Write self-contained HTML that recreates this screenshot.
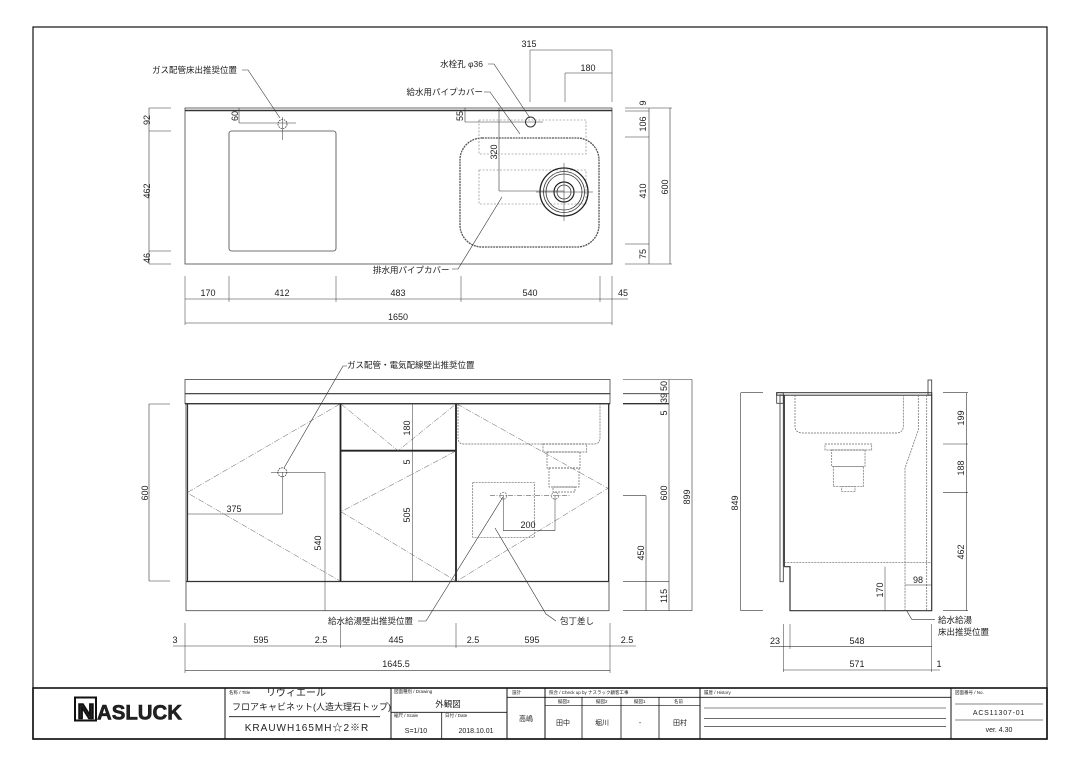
<!DOCTYPE html>
<html><head><meta charset="utf-8"><style>
html,body{margin:0;padding:0;background:#fff}
svg{display:block}
text{font-family:"Liberation Sans Narrow","Liberation Sans","Noto Sans CJK JP",sans-serif;fill:#222}
.j{font-family:"Liberation Sans","Noto Sans CJK JP",sans-serif}
</style></head><body>
<svg width="1080" height="764" viewBox="0 0 1080 764" xmlns="http://www.w3.org/2000/svg">
<g fill="none" stroke="#333" stroke-width="0.8">
<rect x="33" y="27" width="1014" height="712" stroke="#111" stroke-width="1.2"/>

<!-- TOP VIEW -->
<rect x="185" y="108" width="427" height="156" stroke="#444"/>
<line x1="185" y1="110.5" x2="612" y2="110.5" stroke-width="1.6" stroke="#333"/>
<rect x="229" y="131" width="107" height="120" rx="2.5" stroke="#444"/>
<circle cx="282.5" cy="124" r="4.5" stroke-dasharray="1.5,1"/>
<line x1="282.5" y1="117" x2="282.5" y2="140" stroke-width="0.5"/>
<line x1="239" y1="123" x2="296" y2="123" stroke-width="0.6"/>
<line x1="239" y1="108" x2="239" y2="123" stroke-width="0.6"/>
<rect x="460" y="138" width="139" height="109" rx="22" stroke="#555" stroke-width="1.3" stroke-dasharray="2,0.8"/>
<rect x="479" y="120" width="107" height="34" stroke="#777" stroke-dasharray="2,1.5" stroke-width="0.6"/>
<rect x="479" y="170" width="107" height="34" stroke="#777" stroke-dasharray="2,1.5" stroke-width="0.6"/>
<circle cx="564" cy="192" r="24" stroke-width="1.3" stroke="#222"/>
<circle cx="564" cy="192" r="20.5" stroke-width="0.8"/>
<circle cx="564" cy="192" r="18" stroke-width="0.8"/>
<circle cx="564" cy="192" r="10" stroke-width="1.2" stroke="#222"/>
<circle cx="564" cy="192" r="7" stroke-width="0.8"/>
<line x1="564" y1="163" x2="564" y2="221" stroke-width="0.5"/>
<line x1="536" y1="192" x2="593" y2="192" stroke-width="0.5"/>
<circle cx="530.5" cy="122" r="5" stroke-width="1"/>
<line x1="465" y1="122" x2="543" y2="122" stroke-width="0.6"/>
<line x1="465" y1="108" x2="465" y2="122" stroke-width="0.6"/>
<line x1="499" y1="108" x2="499" y2="191" stroke-width="0.6"/>
<line x1="499" y1="191" x2="564" y2="191" stroke-width="0.6"/>
<line x1="530" y1="50" x2="530" y2="102" stroke-width="0.5"/>
<line x1="565" y1="73" x2="565" y2="102" stroke-width="0.5"/>
<line x1="612" y1="50" x2="612" y2="102" stroke-width="0.5"/>
<line x1="530" y1="50" x2="612" y2="50" stroke-width="0.6"/>
<line x1="565" y1="73" x2="612" y2="73" stroke-width="0.6"/>
<polyline points="488,64 494,64 530,118" stroke-width="0.6"/>
<polyline points="484,92 490,92 520,134" stroke-width="0.6"/>
<polyline points="242,70 248,70 280,118" stroke-width="0.6"/>
<polyline points="452,269 458,269 502,197" stroke-width="0.6"/>
<line x1="149" y1="108" x2="149" y2="264" stroke-width="0.6"/>
<line x1="149" y1="108" x2="171" y2="108" stroke-width="0.6"/>
<line x1="149" y1="131" x2="171" y2="131" stroke-width="0.6"/>
<line x1="149" y1="251" x2="171" y2="251" stroke-width="0.6"/>
<line x1="149" y1="264" x2="171" y2="264" stroke-width="0.6"/>
<line x1="649" y1="108" x2="649" y2="264" stroke-width="0.6"/>
<line x1="670" y1="108" x2="670" y2="264" stroke-width="0.6"/>
<line x1="625" y1="108" x2="672" y2="108" stroke-width="0.6"/>
<line x1="625" y1="111" x2="649" y2="111" stroke-width="0.6"/>
<line x1="625" y1="137" x2="649" y2="137" stroke-width="0.6"/>
<line x1="625" y1="244" x2="649" y2="244" stroke-width="0.6"/>
<line x1="625" y1="264" x2="672" y2="264" stroke-width="0.6"/>
<line x1="185" y1="299" x2="628" y2="299" stroke-width="0.6"/>
<line x1="185" y1="323" x2="612" y2="323" stroke-width="0.6"/>
<g stroke-width="0.5">
<line x1="185" y1="276" x2="185" y2="325"/><line x1="229" y1="276" x2="229" y2="302"/>
<line x1="336" y1="276" x2="336" y2="302"/><line x1="461" y1="276" x2="461" y2="302"/>
<line x1="600" y1="276" x2="600" y2="302"/><line x1="612" y1="276" x2="612" y2="325"/>
</g>

<!-- FRONT VIEW -->
<rect x="185" y="379.5" width="425" height="24" stroke="#444"/>
<line x1="185" y1="393.7" x2="610" y2="393.7" stroke-width="1.2"/>
<line x1="185" y1="403.7" x2="610" y2="403.7" stroke-width="1.4" stroke="#222"/>
<rect x="186" y="403.7" width="423" height="207" stroke="#444"/>
<line x1="186" y1="581.5" x2="609" y2="581.5" stroke-width="1.2"/>
<line x1="187.5" y1="404" x2="187.5" y2="581" stroke-width="1.2"/>
<line x1="340.5" y1="404" x2="340.5" y2="581" stroke-width="1.8" stroke="#222"/>
<line x1="456" y1="404" x2="456" y2="581" stroke-width="1.8" stroke="#222"/>
<line x1="341" y1="450.7" x2="456" y2="450.7" stroke-width="1.8" stroke="#222"/>
<line x1="608.5" y1="404" x2="608.5" y2="581" stroke-width="1"/>
<g stroke-width="0.5" stroke="#555" stroke-dasharray="6,1.5,1,1.5">
<polyline points="340,404 187,492.7 340,581"/>
<polyline points="341,404 398,450.7 456,404"/>
<polyline points="456,451 341,511.7 456,581"/>
<polyline points="457,404 608,488.3 457,581"/>
</g>
<g stroke="#666" stroke-dasharray="2,1" stroke-width="0.7">
<path d="M458,404 V438 Q458,444 464,444 H594 Q600,444 600,438 V404"/>
<rect x="543" y="444" width="43.7" height="8"/>
<rect x="547" y="452" width="33" height="16"/>
<rect x="549" y="468" width="30" height="19"/>
<rect x="553" y="487" width="22" height="5"/>
<rect x="472.7" y="482.7" width="61.6" height="54.6"/>
<circle cx="503.3" cy="495.7" r="3.5"/>
<circle cx="555" cy="495.7" r="3.5"/>
</g>
<line x1="490" y1="495.7" x2="570" y2="495.7" stroke-width="0.5" stroke-dasharray="5,1.5,1,1.5"/>
<line x1="503.3" y1="495.7" x2="503.3" y2="530.7" stroke-width="0.5"/>
<line x1="555" y1="495.7" x2="555" y2="530.7" stroke-width="0.5"/>
<line x1="503.3" y1="530.7" x2="555" y2="530.7" stroke-width="0.6"/>
<circle cx="282.3" cy="472.3" r="4.5" stroke-dasharray="1.5,1"/>
<line x1="271" y1="472.3" x2="325" y2="472.3" stroke-width="0.5"/>
<line x1="282.3" y1="472.3" x2="282.3" y2="514" stroke-width="0.5"/>
<line x1="187" y1="514" x2="282.3" y2="514" stroke-width="0.6"/>
<line x1="325" y1="472.3" x2="325" y2="611" stroke-width="0.5"/>
<line x1="412.7" y1="404" x2="412.7" y2="581" stroke-width="0.5"/>
<polyline points="347,366 343,366 284,468" stroke-width="0.6"/>
<polyline points="418,621 426,621 503,497" stroke-width="0.6"/>
<polyline points="556,621 546,614 495,528" stroke-width="0.6"/>
<line x1="149" y1="404" x2="149" y2="581" stroke-width="0.6"/>
<line x1="149" y1="404" x2="170" y2="404" stroke-width="0.6"/>
<line x1="149" y1="581" x2="170" y2="581" stroke-width="0.6"/>
<line x1="669" y1="379.5" x2="669" y2="610.7" stroke-width="0.6"/>
<line x1="692" y1="379.5" x2="692" y2="610.7" stroke-width="0.6"/>
<line x1="646" y1="495.7" x2="646" y2="610.7" stroke-width="0.6"/>
<line x1="623" y1="379.5" x2="692" y2="379.5" stroke-width="0.6"/>
<line x1="623" y1="393.7" x2="669" y2="393.7" stroke-width="0.8"/>
<line x1="623" y1="403.7" x2="669" y2="403.7" stroke-width="1.4"/>
<line x1="623" y1="495.7" x2="646" y2="495.7" stroke-width="0.6"/>
<line x1="623" y1="581.7" x2="669" y2="581.7" stroke-width="0.6"/>
<line x1="623" y1="610.7" x2="692" y2="610.7" stroke-width="0.6"/>
<line x1="173" y1="646" x2="636" y2="646" stroke-width="0.6"/>
<line x1="185" y1="670.7" x2="610" y2="670.7" stroke-width="0.6"/>
<g stroke-width="0.5">
<line x1="185" y1="623" x2="185" y2="673"/><line x1="340.5" y1="623" x2="340.5" y2="648"/>
<line x1="456" y1="623" x2="456" y2="648"/><line x1="610" y1="623" x2="610" y2="673"/>
</g>

<!-- SIDE VIEW -->
<rect x="776.7" y="392.7" width="155" height="2.5" stroke-width="1"/>
<rect x="928" y="380" width="3.7" height="15" stroke-width="0.8"/>
<rect x="776.7" y="392.7" width="6.6" height="10.6" stroke-width="0.8"/>
<rect x="780" y="395" width="3.3" height="186.7" stroke-width="0.8"/>
<line x1="784.3" y1="395" x2="784.3" y2="566.7" stroke-width="1.2"/>
<polyline points="784.3,566.7 790,566.7 790,610.7 931.7,610.7 931.7,395" stroke-width="1.2"/>
<g stroke="#666" stroke-dasharray="2,1" stroke-width="0.7">
<path d="M795,395 V426 Q795,433 803,433 H896 Q903.3,433 903.3,426 V395"/>
<rect x="825" y="444" width="46.7" height="6"/>
<rect x="831.7" y="450" width="33.3" height="16.7"/>
<rect x="833.3" y="466.7" width="30" height="20"/>
<rect x="841.7" y="486.7" width="13.3" height="5"/>
<polyline points="918.3,395 918.3,430 905,468.3 905,610.7"/>
<line x1="926.7" y1="395" x2="926.7" y2="610.7"/>
<line x1="784.3" y1="562.7" x2="931" y2="562.7"/>
</g>
<line x1="885" y1="566.7" x2="885" y2="610.7" stroke-width="0.5"/>
<line x1="905" y1="585" x2="931.7" y2="585" stroke-width="0.6"/>
<polyline points="906.7,610.7 911.7,619.3 935,619.3" stroke-width="0.6"/>
<line x1="966.7" y1="392.7" x2="966.7" y2="610.7" stroke-width="0.6"/>
<line x1="943" y1="392.7" x2="968" y2="392.7" stroke-width="0.6"/>
<line x1="943" y1="444" x2="968" y2="444" stroke-width="0.6"/>
<line x1="943" y1="492.3" x2="968" y2="492.3" stroke-width="0.6"/>
<line x1="943" y1="610.7" x2="968" y2="610.7" stroke-width="0.6"/>
<line x1="740.7" y1="392.7" x2="740.7" y2="610.7" stroke-width="0.6"/>
<line x1="740.7" y1="392.7" x2="763" y2="392.7" stroke-width="0.6"/>
<line x1="740.7" y1="610.7" x2="763" y2="610.7" stroke-width="0.6"/>
<line x1="770" y1="646.7" x2="931.7" y2="646.7" stroke-width="0.6"/>
<line x1="783.3" y1="670" x2="940" y2="670" stroke-width="0.6"/>
<g stroke-width="0.5">
<line x1="783.3" y1="624" x2="783.3" y2="672"/><line x1="790" y1="624" x2="790" y2="649"/>
<line x1="931.7" y1="624" x2="931.7" y2="672"/>
</g>

<!-- TITLE BLOCK -->
<g stroke="#111">
<rect x="33" y="688" width="1014" height="51" stroke-width="1.6"/>
<line x1="225" y1="688" x2="225" y2="739" stroke-width="1"/>
<line x1="391" y1="688" x2="391" y2="739" stroke-width="1"/>
<line x1="507" y1="688" x2="507" y2="739" stroke-width="1"/>
<line x1="545" y1="688" x2="545" y2="739" stroke-width="1"/>
<line x1="700" y1="688" x2="700" y2="739" stroke-width="1"/>
<line x1="951" y1="688" x2="951" y2="739" stroke-width="1"/>
<line x1="229" y1="716.7" x2="380" y2="716.7" stroke-width="0.8"/>
<line x1="391" y1="712.3" x2="507" y2="712.3" stroke-width="0.8"/>
<line x1="441.7" y1="712.3" x2="441.7" y2="739" stroke-width="0.8"/>
<line x1="507" y1="697.3" x2="545" y2="697.3" stroke-width="0.8"/>
<line x1="545" y1="697.3" x2="700" y2="697.3" stroke-width="0.8"/>
<line x1="545" y1="705.7" x2="700" y2="705.7" stroke-width="0.6"/>
<line x1="582" y1="697.3" x2="582" y2="739" stroke-width="0.8"/>
<line x1="621" y1="697.3" x2="621" y2="739" stroke-width="0.8"/>
<line x1="659" y1="697.3" x2="659" y2="739" stroke-width="0.8"/>
<line x1="700" y1="697.3" x2="951" y2="697.3" stroke-width="0.8"/>
<line x1="704" y1="708" x2="946" y2="708" stroke-width="0.6"/>
<line x1="704" y1="718.3" x2="946" y2="718.3" stroke-width="0.6"/>
<line x1="704" y1="726.7" x2="946" y2="726.7" stroke-width="0.6"/>
<line x1="955" y1="704" x2="1043" y2="704" stroke-width="0.6"/>
<line x1="955" y1="720" x2="1043" y2="720" stroke-width="0.6"/>
</g>
<rect x="75" y="697.5" width="21" height="23" stroke="#111" stroke-width="2"/>
</g>

<!-- TEXT -->
<g font-size="9" text-anchor="middle">
<text x="529" y="47">315</text>
<text x="588" y="71">180</text>
<text x="208" y="296">170</text><text x="282" y="296">412</text><text x="398" y="296">483</text>
<text x="530" y="296">540</text><text x="623" y="296">45</text><text x="398" y="320">1650</text>
<text transform="translate(150,120) rotate(-90)">92</text>
<text transform="translate(150,191) rotate(-90)">462</text>
<text transform="translate(150,258) rotate(-90)">46</text>
<text transform="translate(238,116) rotate(-90)">60</text>
<text transform="translate(463,116) rotate(-90)">55</text>
<text transform="translate(497,152) rotate(-90)">320</text>
<text transform="translate(646,103) rotate(-90)">9</text>
<text transform="translate(646,124) rotate(-90)">106</text>
<text transform="translate(646,191) rotate(-90)">410</text>
<text transform="translate(646,254) rotate(-90)">75</text>
<text transform="translate(668,187) rotate(-90)">600</text>
<text x="234" y="512">375</text>
<text x="528" y="528">200</text>
<text transform="translate(321,543) rotate(-90)">540</text>
<text transform="translate(410,428) rotate(-90)">180</text>
<text transform="translate(410,462) rotate(-90)">5</text>
<text transform="translate(410,515) rotate(-90)">505</text>
<text transform="translate(148,493) rotate(-90)">600</text>
<text transform="translate(667,386) rotate(-90)">50</text>
<text transform="translate(667,398) rotate(-90)">39</text>
<text transform="translate(667,413) rotate(-90)">5</text>
<text transform="translate(667,493) rotate(-90)">600</text>
<text transform="translate(667,596) rotate(-90)">115</text>
<text transform="translate(644,553) rotate(-90)">450</text>
<text transform="translate(690,497) rotate(-90)">899</text>
<text x="175" y="643">3</text><text x="261" y="643">595</text><text x="321" y="643">2.5</text>
<text x="396" y="643">445</text><text x="473" y="643">2.5</text><text x="532" y="643">595</text>
<text x="627" y="643">2.5</text><text x="396" y="667">1645.5</text>
<text transform="translate(964,418) rotate(-90)">199</text>
<text transform="translate(964,468) rotate(-90)">188</text>
<text transform="translate(964,552) rotate(-90)">462</text>
<text transform="translate(738,503) rotate(-90)">849</text>
<text transform="translate(883,590) rotate(-90)">170</text>
<text x="918" y="583">98</text>
<text x="775" y="644">23</text><text x="857" y="644">548</text>
<text x="857" y="667">571</text><text x="939" y="667">1</text>
</g>
<g class="j" font-size="8.5">
<text class="j" x="483" y="67" text-anchor="end">水栓孔 φ36</text>
<text class="j" x="483" y="95" text-anchor="end">給水用パイプカバー</text>
<text class="j" x="152" y="73">ガス配管床出推奨位置</text>
<text class="j" x="373" y="273">排水用パイプカバー</text>
<text class="j" x="347" y="368">ガス配管・電気配線壁出推奨位置</text>
<text class="j" x="328" y="624">給水給湯壁出推奨位置</text>
<text class="j" x="560" y="624">包丁差し</text>
<text class="j" x="938" y="623">給水給湯</text>
<text class="j" x="938" y="635">床出推奨位置</text>
</g>
<g class="j" font-size="4.5" fill="#444">
<text class="j" x="229" y="694">名称 / Title</text>
<text class="j" x="394" y="693">図面種別 / Drawing</text>
<text class="j" x="394" y="717">縮尺 / Scale</text>
<text class="j" x="445" y="717">日付 / Date</text>
<text class="j" x="512" y="694">設計</text>
<text class="j" x="549" y="694">照合 / Check up by ナスラック顧客工事</text>
<text class="j" x="704" y="694">履歴 / History</text>
<text class="j" x="955" y="694">図面番号 / No.</text>
<text class="j" x="558" y="703">擬図3</text><text class="j" x="596" y="703">擬図2</text>
<text class="j" x="634" y="703">擬図1</text><text class="j" x="674" y="703">名前</text>
</g>
<text class="j" x="266" y="696" font-size="10">リヴィエール</text>
<text class="j" x="232" y="710" font-size="9">フロアキャビネット(人造大理石トップ)</text>
<text x="307" y="731" font-size="10" text-anchor="middle" style="font-family:'Liberation Sans','Noto Sans CJK JP',sans-serif;letter-spacing:1px">KRAUWH165MH☆2※R</text>
<text class="j" x="448" y="707" font-size="8.5" text-anchor="middle">外観図</text>
<text x="416" y="733" font-size="7" text-anchor="middle">S=1/10</text>
<text x="476" y="733" font-size="7" text-anchor="middle">2018.10.01</text>
<text class="j" x="526" y="721" font-size="7" text-anchor="middle">高嶋</text>
<text class="j" x="563" y="725" font-size="7" text-anchor="middle">田中</text>
<text class="j" x="602" y="725" font-size="7" text-anchor="middle">堀川</text>
<text x="640" y="725" font-size="7" text-anchor="middle">-</text>
<text class="j" x="680" y="725" font-size="7" text-anchor="middle">田村</text>
<text x="999" y="715" font-size="7" text-anchor="middle" style="letter-spacing:0.8px">ACS11307-01</text>
<text x="999" y="732" font-size="7" text-anchor="middle">ver. 4.30</text>
<text x="77.5" y="718.5" font-size="21" font-weight="bold" style="font-family:'Liberation Sans',sans-serif" fill="#fff" stroke="#111" stroke-width="1.5" textLength="17" lengthAdjust="spacingAndGlyphs">N</text>
<text x="97" y="719.5" font-size="21" font-weight="bold" style="font-family:'Liberation Sans',sans-serif" fill="#111" stroke="#111" stroke-width="0.6" textLength="85" lengthAdjust="spacingAndGlyphs">ASLUCK</text>
</svg>
</body></html>
